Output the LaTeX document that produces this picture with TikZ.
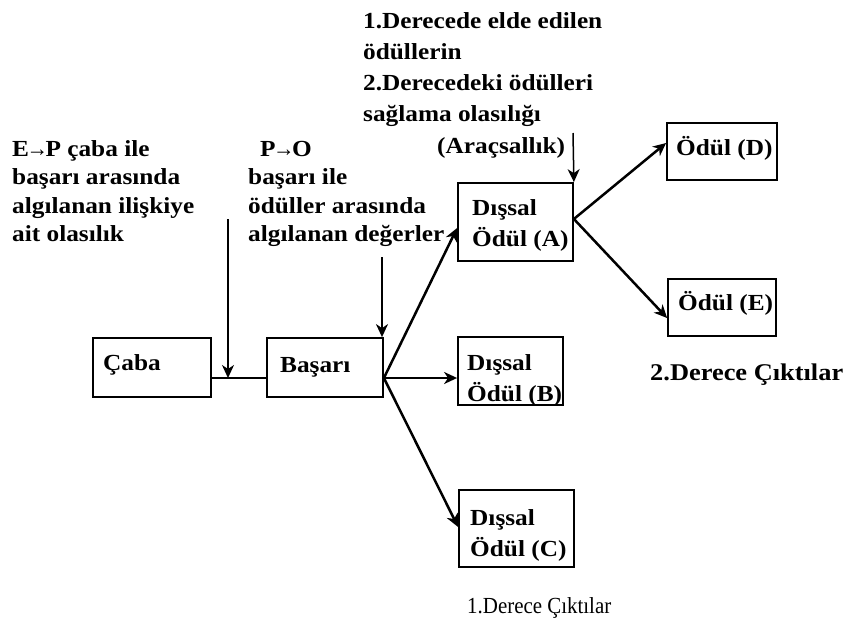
\documentclass[tikz,border=0pt]{standalone}
\usepackage{fontspec}
\setmainfont{Liberation Serif}[FakeStretch=1.1]
\newfontfamily\plainserif{Liberation Serif}[FakeStretch=0.91]
\usetikzlibrary{arrows.meta,calc}

% multi-line left-aligned text block; the node baseline is the first line
\newcommand\mlines[2]{{\fontsize{23}{#1}\selectfont\begin{tabular}[t]{@{}l@{}}#2\end{tabular}}}
% tight right arrow used inside the labels
\newcommand\tarr{\kern-2.5pt\scalebox{0.85}[1]{→}\kern-2.5pt}

\tikzset{
  box/.style={draw, line width=1.8pt, inner sep=0pt},
  txt/.style={inner sep=0pt, anchor=base west, font=\bfseries\fontsize{23}{28}\selectfont},
  tip/.style={-{Stealth[length=13pt,width=12pt,inset=4pt]}},
  thinline/.style={line width=1.5pt},
  thickline/.style={line width=2.5pt},
}

\begin{document}
\begin{tikzpicture}[x=1pt,y=-1pt]
  \fill[white] (0,0) rectangle (847,622);
  \useasboundingbox (0,0) rectangle (847,622);

  % boxes
  \node[box, minimum width=118pt, minimum height=59pt] (caba)   at (152,367.5) {};
  \node[box, minimum width=116pt, minimum height=59pt] (basari) at (325,367.5) {};
  \node[box, minimum width=115pt, minimum height=78pt] (A) at (515.5,222) {};
  \node[box, minimum width=105pt, minimum height=68pt] (B) at (510.5,371) {};
  \node[box, minimum width=115pt, minimum height=77pt] (C) at (516.5,528.5) {};
  \node[box, minimum width=110pt, minimum height=57pt] (D) at (722,151.5) {};
  \node[box, minimum width=108pt, minimum height=57pt] (E) at (722,307.5) {};

  % box texts
  \node[txt] (cabaT)   at (103,370) {Çaba};
  \node[txt] (basariT) at (280,372) {Başarı};
  \node[txt] (AT) at (472,215) {\mlines{31}{Dışsal\\Ödül (A)}};
  \node[txt] (BT) at (467,370) {\mlines{31}{Dışsal\\Ödül (B)}};
  \node[txt] (CT) at (470,525) {\mlines{31}{Dışsal\\Ödül (C)}};
  \node[txt] (DT) at (676,155) {Ödül (D)};
  \node[txt] (ET) at (678,310) {Ödül (E)};

  % annotations
  \node[txt] (ep) at (12,156) {\mlines{28.5}{E\tarr P çaba ile\\başarı arasında\\algılanan ilişkiye\\ait olasılık}};
  \node[txt] (poHead) at (260,156) {P\tarr O};
  \node[txt] (po) at (248,184.5) {\mlines{28.5}{başarı ile\\ödüller arasında\\algılanan değerler}};
  \node[txt] (inst) at (363,28) {\mlines{31}{1.Derecede elde edilen\\ödüllerin\\2.Derecedeki ödülleri\\sağlama olasılığı}};
  \node[txt] (instP) at (437,153) {(Araçsallık)};
  \node[txt, font=\bfseries\fontsize{24}{28}\selectfont] (second) at (650,380) {2.Derece Çıktılar};
  \node[txt, font=\plainserif\fontsize{23}{27}\selectfont] (first) at (467,613) {1.Derece Çıktılar};

  % junction points and free line ends
  \coordinate (j)  at (228,378);
  \coordinate (eptop) at (228,219);
  \coordinate (potop) at (382,257);
  \coordinate (artop) at (573,133);
  \coordinate (fan) at (basari.east |- j);

  % effort to performance
  \draw[thinline] (caba.east |- j) -- (basari.west |- j);
  \draw[thinline, tip] (eptop) -- (j);
  \draw[thinline, tip] (potop) -- (potop |- basari.north);
  \draw[thinline, tip] (artop) -- (A.north east);

  % first-level outcomes
  \draw[thickline, tip] (fan) -- ($(A.west)+(0,6)$);
  \draw[thickline, tip] (fan) -- (B.west |- j);
  \draw[thickline, tip] (fan) -- ($(C.west)+(0,-1.5)$);

  % second-level outcomes
  \draw[thickline, tip] ($(A.east)+(0,-3)$) -- ($(D.west)+(0,-8.5)$);
  \draw[thickline, tip] ($(A.east)+(0,-3)$) -- ($(E.west)+(0,10.5)$);
\end{tikzpicture}
\end{document}
